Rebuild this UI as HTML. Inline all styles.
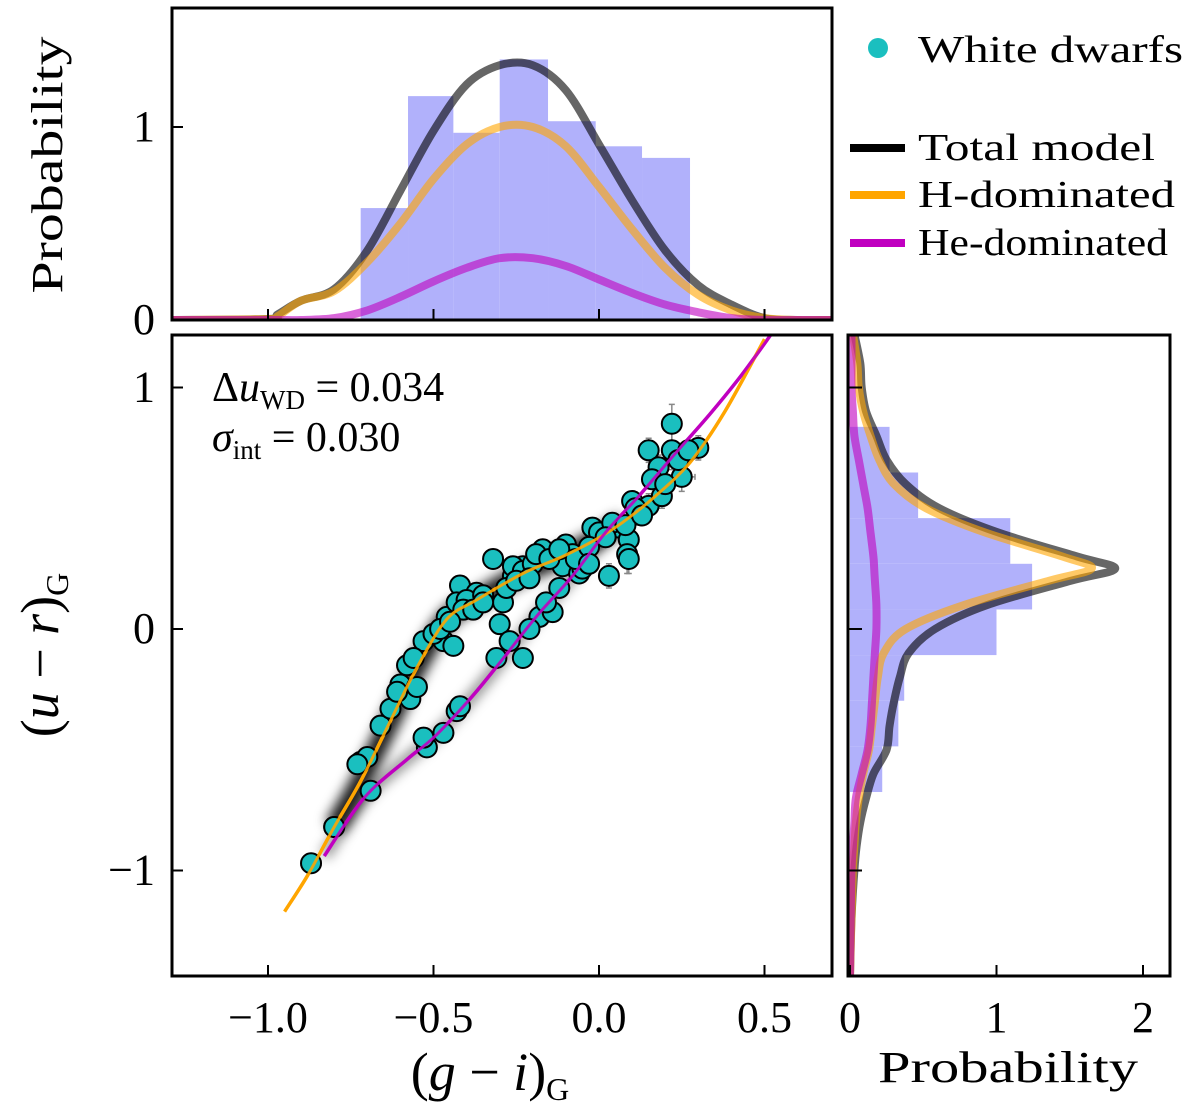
<!DOCTYPE html>
<html><head><meta charset="utf-8"><style>
html,body{margin:0;padding:0;background:#fff;}
svg{display:block;font-family:"Liberation Serif",serif;}
</style></head><body>
<svg id="fig" width="1200" height="1110" viewBox="0 0 1200 1110" xmlns="http://www.w3.org/2000/svg">
<defs><filter id="blur" x="-20%" y="-20%" width="140%" height="140%"><feGaussianBlur stdDeviation="6"/></filter>
<clipPath id="clipTop"><rect x="172" y="8" width="660" height="312"/></clipPath>
<clipPath id="clipMain"><rect x="172" y="335" width="660" height="641"/></clipPath>
<clipPath id="clipRight"><rect x="848" y="335" width="322" height="641"/></clipPath></defs>
<g id="topPanel"></g>
<g id="mainPanel"></g>
<g id="rightPanel"></g>
<g id="legend">
<circle cx="878" cy="48" r="10" fill="#1abfbf"/>
<text x="918" y="62" font-size="38" textLength="265" lengthAdjust="spacingAndGlyphs">White dwarfs</text>
<line x1="850" y1="148" x2="905" y2="148" stroke="#000" stroke-width="8"/>
<text x="918" y="160" font-size="38" textLength="237" lengthAdjust="spacingAndGlyphs">Total model</text>
<line x1="850" y1="195" x2="905" y2="195" stroke="#ffa500" stroke-width="8"/>
<text x="918" y="207" font-size="38" textLength="257" lengthAdjust="spacingAndGlyphs">H-dominated</text>
<line x1="850" y1="243" x2="905" y2="243" stroke="#c000c0" stroke-width="8"/>
<text x="918" y="255" font-size="38" textLength="250" lengthAdjust="spacingAndGlyphs">He-dominated</text>
</g>
<text x="62" y="165" font-size="44" text-anchor="middle" textLength="257" lengthAdjust="spacingAndGlyphs" transform="rotate(-90 62 165)">Probability</text>
<text x="58" y="655" font-size="54" text-anchor="middle" transform="rotate(-90 58 655)">(<tspan font-style="italic">u</tspan> − <tspan font-style="italic">r</tspan>)<tspan font-size="32" dy="10">G</tspan></text>
<text x="490" y="1090" font-size="54" text-anchor="middle">(<tspan font-style="italic">g</tspan> − <tspan font-style="italic">i</tspan>)<tspan font-size="32" dy="10">G</tspan></text>
<text x="1008" y="1082" font-size="44" text-anchor="middle" textLength="260" lengthAdjust="spacingAndGlyphs">Probability</text>
<text x="212" y="401" font-size="42">Δ<tspan font-style="italic">u</tspan><tspan font-size="27" dy="8">WD</tspan><tspan dy="-8"> = 0.034</tspan></text>
<text x="212" y="451" font-size="42"><tspan font-style="italic">σ</tspan><tspan font-size="27" dy="8">int</tspan><tspan dy="-8"> = 0.030</tspan></text>
</svg>
<script>
// ---- data ----
const scatterX=[-0.87,-0.80,-0.72,-0.70,-0.66,-0.60,-0.57,-0.55,-0.53,-0.47,-0.44,-0.46,-0.42,-0.43,-0.37,-0.40,-0.29,-0.30,-0.26,-0.23,-0.26,-0.23,-0.17,-0.10,-0.06,-0.02,0.06,0.09,0.10,0.15,0.19,0.15,0.22,0.25,0.30,0.18,0.22,-0.32,-0.41,-0.35,-0.20,-0.13,-0.08,0.00,0.04,0.12,
 -0.80,-0.69,-0.52,-0.47,-0.43,-0.31,-0.23,-0.18,-0.14,-0.12,-0.11,-0.06,0.085,0.09,0.03,-0.05,
 -0.58,-0.56,-0.50,-0.48,-0.45,-0.38,-0.35,-0.28,-0.25,-0.21,-0.19,-0.15,-0.12,-0.07,-0.03,0.02,0.08,0.11,0.13,0.16,0.20,0.24,0.27,-0.73,-0.63,-0.61,-0.27,-0.21,-0.16,-0.03,-0.53,-0.42];
const scatterY=[-0.97,-0.82,-0.55,-0.53,-0.40,-0.23,-0.29,-0.24,-0.05,-0.05,-0.07,0.05,0.18,0.11,0.15,0.12,0.11,0.02,0.22,0.26,0.26,0.24,0.33,0.35,0.30,0.42,0.42,0.37,0.53,0.51,0.55,0.74,0.74,0.63,0.75,0.67,0.85,0.29,0.08,0.14,0.27,0.30,0.31,0.40,0.44,0.48,
 -0.82,-0.67,-0.49,-0.43,-0.34,-0.12,-0.12,0.05,0.07,0.17,0.26,0.23,0.31,0.29,0.22,0.25,
 -0.15,-0.12,-0.02,0.00,0.03,0.08,0.11,0.17,0.20,0.21,0.31,0.29,0.33,0.29,0.34,0.38,0.43,0.50,0.47,0.62,0.60,0.70,0.74,-0.56,-0.33,-0.26,-0.05,0.00,0.11,0.27,-0.45,-0.32];
const errX=[0.03,0.02,0.015,0.015,0.015,0.015,0.015,0.015,0.015,0.015,0.015,0.015,0.015,0.015,0.015,0.015,0.015,0.015,0.015,0.015,0.015,0.015,0.02,0.02,0.02,0.02,0.02,0.02,0.02,0.025,0.025,0.025,0.025,0.04,0.03,0.025,0.02,0.015,0.015,0.015,0.02,0.02,0.02,0.02,0.02,0.025,0.02,0.015,0.015,0.015,0.015,0.015,0.015,0.02,0.02,0.02,0.02,0.02,0.02,0.02,0.02,0.02];
const errY=[0.02,0.02,0.02,0.02,0.02,0.02,0.02,0.02,0.02,0.02,0.02,0.02,0.02,0.02,0.02,0.02,0.03,0.03,0.03,0.03,0.03,0.03,0.04,0.04,0.04,0.04,0.04,0.05,0.04,0.05,0.05,0.05,0.08,0.06,0.05,0.05,0.08,0.03,0.03,0.03,0.03,0.03,0.04,0.04,0.04,0.05,0.02,0.02,0.02,0.02,0.03,0.03,0.03,0.03,0.03,0.04,0.04,0.04,0.08,0.06,0.05,0.04];
const hCurveX=[-0.95,-0.88,-0.80,-0.72,-0.63,-0.55,-0.46,-0.37,-0.23,-0.11,-0.01,0.07,0.17,0.275,0.38,0.50];
const hCurveY=[-1.17,-1.02,-0.82,-0.63,-0.38,-0.16,0.04,0.12,0.23,0.30,0.37,0.44,0.55,0.69,0.90,1.20];
const heCurveX=[-0.83,-0.71,-0.58,-0.50,-0.39,-0.30,-0.19,-0.08,0.02,0.12,0.22,0.335,0.43,0.52];
const heCurveY=[-0.94,-0.70,-0.54,-0.45,-0.29,-0.14,0.05,0.22,0.40,0.55,0.71,0.89,1.05,1.22];
const topBinEdges=[-0.72,-0.577,-0.44,-0.30,-0.154,-0.01,0.13,0.275];
const topBinHeights=[0.58,1.16,0.97,1.35,1.03,0.90,0.84];
const topCurveX=[-1.3,-1.0,-0.97,-0.9,-0.8,-0.7,-0.6,-0.5,-0.4,-0.3,-0.2,-0.1,0.0,0.1,0.2,0.3,0.4,0.5,0.6,0.7];
const topTotal=[0,0.005,0.03,0.10,0.16,0.36,0.67,0.98,1.22,1.32,1.32,1.19,0.91,0.62,0.36,0.18,0.08,0.01,0,0];
const topH=[0,0.005,0.02,0.10,0.15,0.30,0.50,0.73,0.91,1.00,1.00,0.90,0.69,0.47,0.27,0.13,0.05,0.01,0,0];
const topHe=[0,0,0,0,0.01,0.05,0.12,0.20,0.27,0.32,0.32,0.28,0.21,0.14,0.08,0.04,0.01,0,0,0];
const rightBinEdges=[-0.675,-0.486,-0.297,-0.108,0.081,0.270,0.459,0.648,0.837];
const rightBinWidths=[0.22,0.33,0.37,1.0,1.243,1.094,0.465,0.27];
const rightCurveY=[-1.44,-1.2,-1.0,-0.9,-0.8,-0.7,-0.6,-0.5,-0.4,-0.3,-0.2,-0.1,0.0,0.1,0.2,0.25,0.3,0.4,0.5,0.6,0.7,0.8,0.9,1.0,1.1,1.22];
const rightTotal=[0,0.01,0.03,0.045,0.07,0.11,0.16,0.25,0.27,0.30,0.34,0.40,0.58,0.94,1.51,1.81,1.55,1.01,0.61,0.38,0.25,0.18,0.11,0.08,0.07,0.03];
const rightH=[0,0.01,0.02,0.03,0.04,0.06,0.09,0.13,0.15,0.17,0.19,0.23,0.38,0.78,1.36,1.65,1.45,0.92,0.52,0.30,0.20,0.14,0.09,0.06,0.05,0.02];
const rightHe=[0,0.005,0.01,0.02,0.03,0.04,0.08,0.12,0.14,0.15,0.16,0.17,0.18,0.18,0.17,0.165,0.16,0.14,0.12,0.09,0.06,0.03,0.02,0.01,0.01,0.01];
const mainXTicks=[-1.0,-0.5,0.0,0.5], mainXTickLabels=["−1.0","−0.5","0.0","0.5"];
const mainYTicks=[-1,0,1], mainYTickLabels=["−1","0","1"];
const topYTicks=[0,1], topYTickLabels=["0","1"];
const rightXTicks=[0,1,2], rightXTickLabels=["0","1","2"];

// ---- axes ----
const xs=v=>599+331*v;
const ys=v=>629-241.5*v;
const tys=v=>320-193*v;
const rxs=v=>850+146.5*v;
const NS="http://www.w3.org/2000/svg";
function mk(parent,tag,attrs){const e=document.createElementNS(NS,tag);for(const k in attrs)e.setAttribute(k,attrs[k]);parent.appendChild(e);return e;}
function smooth(P){ // Catmull-Rom through pixel points
 let d='M'+P[0][0].toFixed(1)+','+P[0][1].toFixed(1);
 for(let i=0;i<P.length-1;i++){const p0=P[Math.max(0,i-1)],p1=P[i],p2=P[i+1],p3=P[Math.min(P.length-1,i+2)];
  const c1=[p1[0]+(p2[0]-p0[0])/6,p1[1]+(p2[1]-p0[1])/6],c2=[p2[0]-(p3[0]-p1[0])/6,p2[1]-(p3[1]-p1[1])/6];
  d+=`C${c1[0].toFixed(1)},${c1[1].toFixed(1)} ${c2[0].toFixed(1)},${c2[1].toFixed(1)} ${p2[0].toFixed(1)},${p2[1].toFixed(1)}`;}
 return d;}
const topG=document.getElementById('topPanel'),mainG=document.getElementById('mainPanel'),rightG=document.getElementById('rightPanel');

// top panel
const tg=mk(topG,'g',{'clip-path':'url(#clipTop)'});
for(let i=0;i<topBinHeights.length;i++){
 const r=mk(tg,'rect',{x:xs(topBinEdges[i]),y:tys(topBinHeights[i]),width:xs(topBinEdges[i+1])-xs(topBinEdges[i]),height:tys(0)-tys(topBinHeights[i]),fill:'#b1b1fb'});
 
 
}
function tpath(arr){return smooth(arr.map((v,i)=>[xs(topCurveX[i]),tys(v)]));}
[[topTotal,'#000','top-total-curve'],[topH,'#ffa500','top-h-curve'],[topHe,'#c000c0','top-he-curve']].forEach(c=>{
 const p=mk(tg,'path',{d:tpath(c[0]),fill:'none',stroke:c[1],'stroke-width':8,'stroke-opacity':0.6,'stroke-linejoin':'round'});
 
 
});
mk(topG,'rect',{x:172,y:8,width:660,height:312,fill:'none',stroke:'#000','stroke-width':3});
mainXTicks.forEach(t=>{mk(topG,'line',{x1:xs(t),x2:xs(t),y1:320,y2:309,stroke:'#000','stroke-width':2});});
topYTicks.forEach((t,i)=>{mk(topG,'line',{x1:172,x2:183,y1:tys(t),y2:tys(t),stroke:'#000','stroke-width':2});
 const l=mk(topG,'text',{x:155,y:tys(t)+14,'font-size':44,'text-anchor':'end'});l.textContent=topYTickLabels[i];
 
 });

// main panel
const mg=mk(mainG,'g',{'clip-path':'url(#clipMain)'});
function mpath(X,Y){return smooth(X.map((v,i)=>[xs(v),ys(Y[i])]));}
mk(mg,'path',{d:mpath(hCurveX.slice(2,12),hCurveY.slice(2,12)),fill:'none',stroke:'#000','stroke-width':20,'stroke-opacity':0.9,filter:'url(#blur)'});
mk(mg,'path',{d:mpath(heCurveX.slice(0,9),heCurveY.slice(0,9)),fill:'none',stroke:'#000','stroke-width':10,'stroke-opacity':0.5,filter:'url(#blur)'});
for(let i=0;i<errX.length;i++){
 const x=xs(scatterX[i]),y=ys(scatterY[i]),ex=331*errX[i],ey=241.5*errY[i];
 mk(mg,'path',{d:`M${x-ex},${y}H${x+ex}M${x-ex},${y-3}v6M${x+ex},${y-3}v6M${x},${y-ey}V${y+ey}M${x-3},${y-ey}h6M${x-3},${y+ey}h6`,stroke:'#888','stroke-width':1.5,fill:'none'});
}
const hp=mk(mg,'path',{d:mpath(hCurveX,hCurveY),fill:'none',stroke:'#ffa500','stroke-width':3.5,'stroke-linejoin':'round'});


const hep=mk(mg,'path',{d:mpath(heCurveX,heCurveY),fill:'none',stroke:'#c000c0','stroke-width':3.5,'stroke-linejoin':'round'});


for(let i=0;i<scatterX.length;i++){
 const c=mk(mg,'circle',{cx:xs(scatterX[i]),cy:ys(scatterY[i]),r:10,fill:'#1abfbf',stroke:'#000','stroke-width':2});
 
 
}
mk(mg,'path',{d:mpath(hCurveX,hCurveY),fill:'none',stroke:'#ffa500','stroke-width':3,'stroke-opacity':0.9});
mk(mg,'path',{d:mpath(heCurveX,heCurveY),fill:'none',stroke:'#c000c0','stroke-width':3,'stroke-opacity':0.9});
mk(mainG,'rect',{x:172,y:335,width:660,height:641,fill:'none',stroke:'#000','stroke-width':3});
mainXTicks.forEach((t,i)=>{mk(mainG,'line',{x1:xs(t),x2:xs(t),y1:976,y2:965,stroke:'#000','stroke-width':2});
 const l=mk(mainG,'text',{x:xs(t),y:1032,'font-size':44,'text-anchor':'middle'});l.textContent=mainXTickLabels[i];
 
 });
mainYTicks.forEach((t,i)=>{mk(mainG,'line',{x1:172,x2:183,y1:ys(t),y2:ys(t),stroke:'#000','stroke-width':2});
 const l=mk(mainG,'text',{x:155,y:ys(t)+14,'font-size':44,'text-anchor':'end'});l.textContent=mainYTickLabels[i];
 
 });

// right panel
const rg=mk(rightG,'g',{'clip-path':'url(#clipRight)'});
for(let i=0;i<rightBinWidths.length;i++){
 const r=mk(rg,'rect',{x:rxs(0),y:ys(rightBinEdges[i+1]),width:rxs(rightBinWidths[i])-rxs(0),height:ys(rightBinEdges[i])-ys(rightBinEdges[i+1]),fill:'#b1b1fb'});
 
 
}
function rpath(arr){return smooth(arr.map((v,i)=>[rxs(v),ys(rightCurveY[i])]));}
[[rightTotal,'#000','right-total-curve'],[rightH,'#ffa500','right-h-curve'],[rightHe,'#c000c0','right-he-curve']].forEach(c=>{
 const p=mk(rg,'path',{d:rpath(c[0]),fill:'none',stroke:c[1],'stroke-width':8,'stroke-opacity':0.6,'stroke-linejoin':'round'});
 
 
});
mk(rightG,'rect',{x:848,y:335,width:322,height:641,fill:'none',stroke:'#000','stroke-width':3});
mainYTicks.forEach(t=>{mk(rightG,'line',{x1:848,x2:862,y1:ys(t),y2:ys(t),stroke:'#000','stroke-width':2});});
rightXTicks.forEach((t,i)=>{mk(rightG,'line',{x1:rxs(t),x2:rxs(t),y1:976,y2:965,stroke:'#000','stroke-width':2});
 const l=mk(rightG,'text',{x:rxs(t),y:1032,'font-size':44,'text-anchor':'middle'});l.textContent=rightXTickLabels[i];
 
 });
</script>
</body></html>
